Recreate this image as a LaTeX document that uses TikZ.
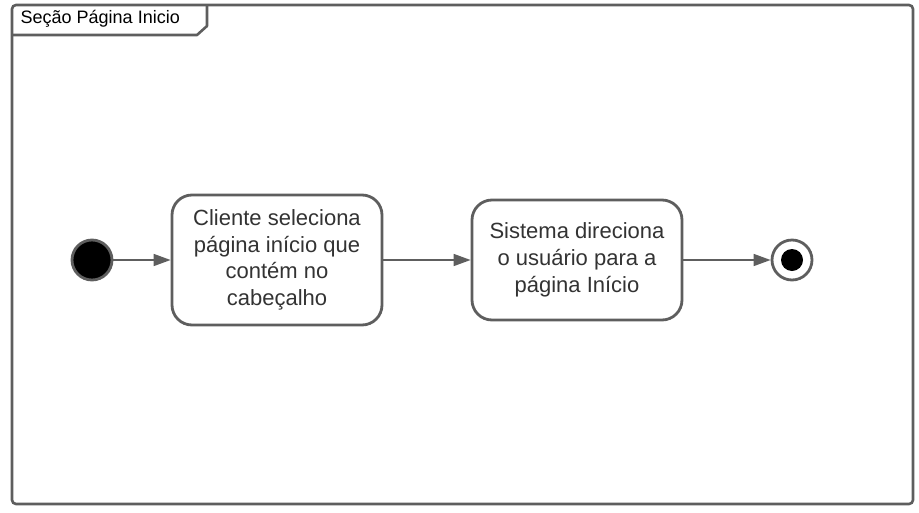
\documentclass[tikz,border=0pt]{standalone}
\usepackage{fontspec}
\setmainfont{Liberation Sans}
\usetikzlibrary{arrows.meta}
\definecolor{ln}{HTML}{5E5E5E}
\definecolor{tx}{HTML}{333333}
\begin{document}
\begin{tikzpicture}[x=1pt,y=-1pt,
  act/.style={draw=ln,line width=2.8pt,rounded corners=20pt,fill=white,align=center,text=tx,font=\fontsize{22}{26.7}\selectfont,inner sep=0pt},
  conn/.style={draw=ln,line width=1.6pt,-{Triangle[length=17pt,width=12pt]}},
  frm/.style={draw=ln,line width=2.6pt}]
\useasboundingbox (0,0) rectangle (919,512);
\draw[frm,rounded corners=4pt] (12,5) rectangle (913,504);
\draw[frm,line join=round] (12,35) -- (197,35) -- (207,26) -- (207,5);
\node[anchor=west,text=black,font=\fontsize{18}{20}\selectfont,inner sep=0pt] (title) at (20.5,19) {Seção Página Inicio};
\node[circle,draw=ln,line width=2.8pt,fill=black,minimum size=40pt,inner sep=0pt] (init) at (92,260) {};
\node[act,minimum width=210pt,minimum height=130pt] (a1) at (277,260) {Cliente seleciona\\página início que\\contém no\\cabeçalho};
\node[act,minimum width=210pt,minimum height=120pt] (a2) at (577,260) {Sistema direciona\\o usuário para a\\página Início};
\node[circle,draw=ln,line width=2.8pt,fill=white,minimum size=40pt,inner sep=0pt] (fin) at (792,260) {};
\node[circle,fill=black,minimum size=22pt,inner sep=0pt] (finc) at (792,260) {};
\draw[conn] (init) -- (a1);
\draw[conn] (a1) -- (a2);
\draw[conn] (a2) -- (fin);
\end{tikzpicture}
\end{document}
